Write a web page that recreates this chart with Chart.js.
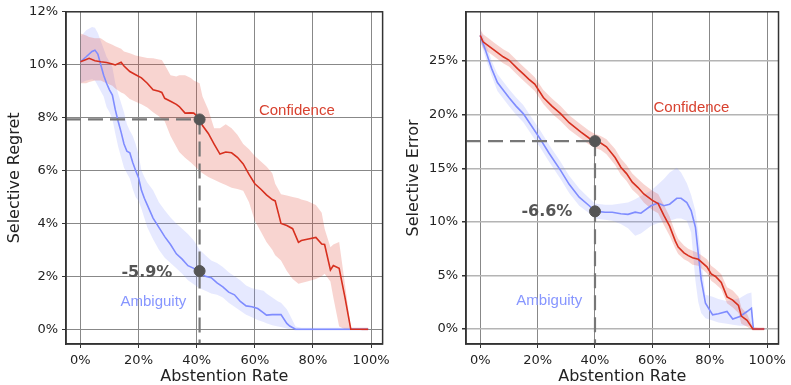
<!DOCTYPE html>
<html><head><meta charset="utf-8">
<script src="https://cdn.jsdelivr.net/npm/chart.js@4.4.1/dist/chart.umd.min.js"></script>
<style>
html,body{margin:0;padding:0;background:#fff;}
#wrap{position:relative;width:791px;height:385px;overflow:hidden;}
canvas{position:absolute;top:0;}
#c1{left:0;width:395px;height:385px;}
#c2{left:395px;width:396px;height:385px;}
</style></head><body>
<div id="wrap"><canvas id="c1" width="395" height="385"></canvas><canvas id="c2" width="396" height="385"></canvas></div>
<script>
// ---------- data ----------
const xTicks = [0, 20, 40, 60, 80, 100];
const leftYTicks = [0, 2, 4, 6, 8, 10, 12];
const rightYTicks = [0, 5, 10, 15, 20, 25];

// Left panel: Selective Regret
const leftConfX  = [0,2,3,5,7,9,11,12,14,15,17,19,21,23,25,27,28,29,31,33,34,36,38,39,41,42,44,46,48,50,52,54,56,58,60,62,64,66,67,69,71,73,75,76,78,81,83,84,86,87,89,91,93,95,97,99];
const leftConfY  = [10.11,10.2,10.24,10.15,10.11,10.08,10.03,9.99,10.09,9.95,9.74,9.62,9.5,9.3,9.05,9.0,8.95,8.73,8.62,8.5,8.42,8.17,8.18,8.17,7.97,7.7,7.4,7.0,6.62,6.7,6.67,6.5,6.25,5.85,5.5,5.3,5.08,4.9,4.85,4.0,3.92,3.8,3.28,3.35,3.4,3.47,3.22,3.2,2.24,2.41,2.3,1.2,0,0,0,0];
const leftConfHi = [11.18,11.1,11.05,11.0,11.0,10.85,10.75,10.7,10.6,10.5,10.43,10.35,10.3,10.25,10.24,10.2,10.18,10.0,9.6,9.55,9.6,9.6,9.5,9.4,9.3,8.8,8.3,7.6,7.6,7.75,7.6,7.35,7.0,6.8,6.55,6.35,6.15,5.9,5.5,5.1,5.05,5.0,4.95,4.9,4.85,4.7,4.4,3.8,3.1,3.2,3.3,1.7,0.05,0.05,0.05,0.05];
const leftConfLo = [9.3,9.3,9.35,9.4,9.4,9.3,9.2,9.1,8.95,8.9,8.7,8.6,8.5,8.38,8.2,8.05,7.95,7.86,7.3,6.9,6.7,6.48,6.3,6.2,5.98,5.9,5.75,5.65,5.55,5.45,5.35,5.3,5.23,4.8,4.1,3.7,3.3,3.0,2.8,2.6,2.2,1.9,1.72,1.75,1.8,1.9,2.0,2.1,1.8,1.2,0.1,0,0,0,-0.05,-0.05];

const leftAmbX  = [0,2,4,5,6,7,8,9,10,11,12,13,14,15,16,17,18,19,20,21,22,23,25,27,29,31,33,35,37,39,41,43,45,47,49,51,53,55,57,59,61,63,64,66,68,69,71,72,74,76,80,85,90,95,99];
const leftAmbY  = [10.11,10.3,10.5,10.55,10.4,10.0,9.6,9.3,9.05,8.85,8.3,7.85,7.45,7.0,6.73,6.67,6.3,6.0,5.73,5.25,4.95,4.7,4.2,3.85,3.5,3.2,2.85,2.65,2.4,2.3,2.15,2.0,1.95,1.75,1.6,1.4,1.3,1.05,0.88,0.85,0.78,0.62,0.53,0.55,0.55,0.55,0.22,0.12,0,0,0,0,0,0,0];
const leftAmbHi = [11.05,11.3,11.43,11.4,11.2,10.9,10.6,10.3,10.11,9.9,9.3,8.9,8.55,8.2,7.75,7.5,7.3,7.0,6.6,6.0,5.75,5.55,5.25,4.8,4.5,4.22,4.0,3.8,3.6,3.35,3.0,2.8,2.6,2.5,2.35,2.15,2.0,1.85,1.65,1.55,1.5,1.45,1.35,1.2,1.05,1.0,0.75,0.55,0.1,0.05,0.05,0.05,0.05,0.05,0.05];
const leftAmbLo = [9.3,9.4,9.45,9.4,9.2,9.0,8.8,8.4,8.2,7.95,7.4,6.9,6.5,6.1,5.9,5.7,5.3,5.0,4.85,4.55,4.2,3.85,3.4,3.0,2.7,2.5,2.3,2.1,1.85,1.7,1.55,1.45,1.35,1.3,1.2,1.0,0.85,0.7,0.55,0.45,0.35,0.27,0.22,0.15,0.1,0.08,0.03,0,-0.05,-0.05,-0.05,-0.05,-0.05,-0.05,-0.05];

const leftMarkX = [41, 41];
const leftMarkY = [7.93, 2.2];

// Right panel: Selective Error
const rightConfX  = [0,1,3,5,8,10,13,15,17,19,22,25,28,31,35,38,40,42,44,47,49,51,53,55,57,60,62,64,66,68,69,71,72.5,74,76,79,80.5,82,84,86,88,90,91,93,95,97,99];
const rightConfY  = [27.4,26.8,26.4,26.0,25.4,25.1,24.3,23.8,23.3,22.85,21.6,20.8,20.1,19.25,18.4,17.8,17.5,17.35,17.0,16.0,15.1,14.5,13.7,13.2,12.6,12.0,11.7,10.6,9.6,8.2,7.65,7.1,6.85,6.65,6.5,5.8,5.15,4.9,4.35,3.0,2.7,2.2,1.2,0.8,0,0,0];
const rightConfHi = [28.0,27.5,27.1,26.7,26.1,25.8,25.0,24.5,24.0,23.5,22.3,21.5,20.8,19.95,19.1,18.5,18.2,18.0,17.7,16.8,15.9,15.3,14.5,14.0,13.5,12.9,12.6,11.6,10.5,9.0,8.4,7.8,7.5,7.3,7.1,6.5,5.9,5.6,5.1,3.9,3.6,3.0,2.0,1.4,0.2,0.15,0.15];
const rightConfLo = [26.9,26.2,25.8,25.4,24.8,24.5,23.7,23.2,22.7,22.2,21.0,20.1,19.4,18.6,17.8,17.2,16.9,16.7,16.3,15.3,14.4,13.8,13.0,12.5,11.8,11.1,10.8,9.7,8.7,7.5,7.0,6.5,6.3,6.0,5.9,5.2,4.5,4.2,3.7,2.4,2.0,1.5,0.5,0.2,-0.15,-0.15,-0.15];

const rightAmbX  = [0,2,4,6,8,10,12.5,15,17.5,21,24,28,31,34.5,38,40,43.5,46,49,51.5,54,56,59.5,62,64,66,68.5,70,72,73.5,75,76,77,78.5,81,83,86,88,90.5,93,94.5,95.2,97,99];
const rightAmbY  = [27.4,25.9,24.3,23.0,22.3,21.6,20.8,20.1,19.1,17.7,16.4,14.8,13.5,12.3,11.5,11.0,10.9,10.9,10.75,10.7,10.9,10.8,11.5,11.75,11.5,11.65,12.2,12.2,11.8,11.05,9.5,7.0,4.6,2.4,1.32,1.42,1.63,0.93,1.17,1.63,1.94,0,0,0];
const rightAmbHi = [28.0,26.6,25.0,23.8,23.1,22.4,21.6,20.9,19.9,18.5,17.2,15.6,14.3,13.1,12.2,11.7,11.6,11.6,11.7,11.8,12.1,12.4,12.9,13.5,14.0,14.6,15.05,14.6,13.6,12.5,11.0,9.0,6.5,3.2,3.0,2.8,2.6,2.7,2.9,3.3,3.4,0.1,0.1,0.1];
const rightAmbLo = [26.9,25.2,23.6,22.2,21.5,20.8,20.0,19.3,18.3,16.9,15.6,14.0,12.7,11.5,10.8,10.3,10.2,10.1,9.8,9.4,8.7,8.9,9.6,9.9,10.0,10.1,10.3,10.3,10.1,9.0,4.5,2.5,1.5,1.0,0.8,0.6,0.5,0.4,0.3,0.3,0.3,-0.1,-0.1,-0.1];

const rightMarkX = [40, 40];
const rightMarkY = [17.53, 10.98];

// ---------- styles ----------
const RED = '#d7301f', RED_FILL = 'rgba(222,60,40,0.22)';
const BLUE = '#7f8cff', BLUE_FILL = 'rgba(130,145,255,0.2)';
const TXT = '#222';

function pts(xs, ys) { return xs.map((x, i) => ({x: x, y: ys[i]})); }

const framePlugin = {
  id: 'frame',
  afterDatasetsDraw(chart) {
    const ctx = chart.ctx, a = chart.chartArea;
    ctx.save();
    ctx.strokeStyle = '#333';
    ctx.lineWidth = 1.5;
    ctx.strokeRect(a.left, a.top, a.right - a.left, a.bottom - a.top);
    ctx.restore();
  }
};
const textPlugin = {
  id: 'texts',
  afterDatasetsDraw(chart, args, opts) {
    const ctx = chart.ctx, xs = chart.scales.x, ys = chart.scales.y;
    (opts.items || []).forEach(t => {
      ctx.save();
      ctx.font = t.font;
      ctx.fillStyle = t.color;
      ctx.textAlign = 'left';
      ctx.textBaseline = 'middle';
      ctx.fillText(t.text, xs.getPixelForValue(t.x), ys.getPixelForValue(t.y));
      ctx.restore();
    });
  }
};

function makePanel(id, p) {
  const xMin = -4.95, xMax = 103.95;
  const datasets = [
    {label: 'marks', data: pts(p.markX, p.markY), showLine: false, pointRadius: 5.5,
     pointBackgroundColor: '#555', pointBorderColor: '#555', pointBorderWidth: 1, order: 0},
    {label: 'hdash', data: [{x: xMin, y: p.markY[0]}, {x: p.markX[0], y: p.markY[0]}],
     borderColor: '#777', borderWidth: 2.2, borderDash: [15, 7], pointRadius: 0, fill: false, order: 1},
    {label: 'vdash', data: [{x: p.markX[0], y: p.markY[0]}, {x: p.markX[0], y: p.yMin}],
     borderColor: '#777', borderWidth: 2.2, borderDash: [15, 7], pointRadius: 0, fill: false, order: 1},
    {label: 'Confidence', data: pts(p.confX, p.confY), borderColor: RED, borderWidth: 1.6,
     pointRadius: 0, fill: false, tension: 0, order: 2},
    {label: 'Ambiguity', data: pts(p.ambX, p.ambY), borderColor: BLUE, borderWidth: 1.6,
     pointRadius: 0, fill: false, tension: 0, order: 3},
    {label: 'confHi', data: pts(p.confX, p.confHi), borderColor: 'rgba(0,0,0,0)', borderWidth: 1,
     pointRadius: 0, fill: false, order: 4},
    {label: 'confLo', data: pts(p.confX, p.confLo), borderColor: 'rgba(0,0,0,0)', borderWidth: 1,
     pointRadius: 0, fill: '-1', backgroundColor: RED_FILL, order: 4},
    {label: 'ambHi', data: pts(p.ambX, p.ambHi), borderColor: 'rgba(0,0,0,0)', borderWidth: 1,
     pointRadius: 0, fill: false, order: 5},
    {label: 'ambLo', data: pts(p.ambX, p.ambLo), borderColor: 'rgba(0,0,0,0)', borderWidth: 1,
     pointRadius: 0, fill: '-1', backgroundColor: BLUE_FILL, order: 5}
  ];
  return new Chart(document.getElementById(id), {
    type: 'line',
    data: {datasets},
    plugins: [framePlugin, textPlugin],
    options: {
      responsive: false, animation: false, devicePixelRatio: 1,
      layout: {padding: {top: 10, right: p.padRight, left: 0, bottom: 0}},
      plugins: {
        legend: {display: false}, tooltip: {enabled: false},
        texts: {items: p.texts}
      },
      scales: {
        x: {
          type: 'linear', min: xMin, max: xMax,
          afterBuildTicks: s => { s.ticks = xTicks.map(v => ({value: v})); },
          afterFit: s => { s.height = 41; },
          ticks: {callback: v => v + '%', font: {family: 'DejaVu Sans', size: 13}, color: TXT,
                  padding: 5, maxRotation: 0, autoSkip: false},
          grid: {color: '#888', lineWidth: 1, tickLength: 4, tickColor: '#333'},
          border: {display: true, color: '#333', width: 1.5},
          title: {display: true, text: 'Abstention Rate', color: TXT,
                  font: {family: 'DejaVu Sans', size: 16, lineHeight: 1}, padding: {top: 0, bottom: 0}}
        },
        y: {
          type: 'linear', min: p.yMin, max: p.yMax,
          afterBuildTicks: s => { s.ticks = p.yTicks.map(v => ({value: v})); },
          afterFit: s => { s.width = p.yWidth; },
          ticks: {callback: v => v + '%', font: {family: 'DejaVu Sans', size: 13}, color: TXT,
                  padding: 4, autoSkip: false},
          grid: {color: p.yGridColor, lineWidth: p.yGridWidth, tickLength: 4, tickColor: '#333'},
          border: {display: true, color: '#333', width: 1.5},
          title: {display: true, text: p.yTitle, color: TXT,
                  font: {family: 'DejaVu Sans', size: 16, lineHeight: 1}, padding: {top: p.titlePad, bottom: 0}}
        }
      }
    }
  });
}

const LBL = '15px "Liberation Sans", Arial, sans-serif';
const BOLD = 'bold 16px "DejaVu Sans", sans-serif';

makePanel('c1', {
  confX: leftConfX, confY: leftConfY, confHi: leftConfHi, confLo: leftConfLo,
  ambX: leftAmbX, ambY: leftAmbY, ambHi: leftAmbHi, ambLo: leftAmbLo,
  markX: leftMarkX, markY: leftMarkY,
  yMin: -0.56, yMax: 12, yTicks: leftYTicks, yTitle: 'Selective Regret',
  yWidth: 66, padRight: 8, titlePad: 7, yGridColor: '#888', yGridWidth: 1,
  texts: [
    {text: 'Confidence', x: 61.4, y: 8.27, font: LBL, color: '#d8412f'},
    {text: 'Ambiguity', x: 13.8, y: 1.05, font: LBL, color: '#8796ff'},
    {text: '-5.9%', x: 14.1, y: 2.12, font: BOLD, color: '#555'}
  ]
});

makePanel('c2', {
  confX: rightConfX, confY: rightConfY, confHi: rightConfHi, confLo: rightConfLo,
  ambX: rightAmbX, ambY: rightAmbY, ambHi: rightAmbHi, ambLo: rightAmbLo,
  markX: rightMarkX, markY: rightMarkY,
  yMin: -1.4, yMax: 29.6, yTicks: rightYTicks, yTitle: 'Selective Error',
  yWidth: 71, padRight: 4, titlePad: 11, yGridColor: '#b4b4b4', yGridWidth: 1.5,
  texts: [
    {text: 'Confidence', x: 60.4, y: 20.68, font: LBL, color: '#d8412f'},
    {text: 'Ambiguity', x: 12.6, y: 2.62, font: LBL, color: '#8796ff'},
    {text: '-6.6%', x: 14.35, y: 10.89, font: BOLD, color: '#555'}
  ]
});
</script>
</body></html>
